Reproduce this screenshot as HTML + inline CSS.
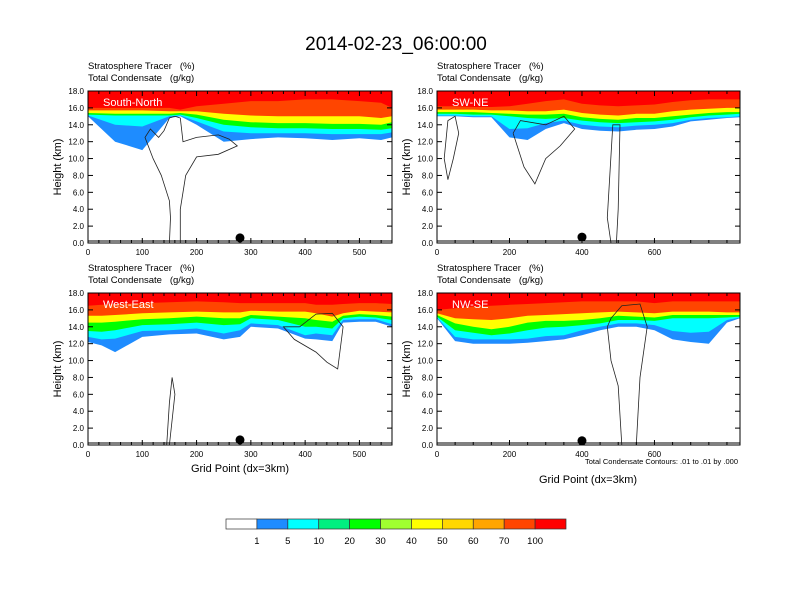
<!DOCTYPE html>
<html><head><meta charset="utf-8"><style>
body{margin:0;background:#fff}
svg{display:block;font-family:"Liberation Sans",sans-serif}
text{white-space:pre}
</style></head><body>
<svg id="chart" width="792" height="612" viewBox="0 0 792 612">
<text x="396" y="50" text-anchor="middle" font-size="19">2014-02-23_06:00:00</text>
</svg>
<script>
// ---- data ----
const levelLabels = ["1","5","10","20","30","40","50","60","70","100"];
const barColors = ["#ffffff","#1e8cff","#00ffff","#00f080","#00ff00","#a0ff30","#ffff00","#ffd700","#ffa500","#ff4500","#ff0000"];
const bandColors = ["#1e8cff","#00ffff","#00ff00","#ffff00","#ff4500","#ff0000"];
const panelNames = ["South-North","SW-NE","West-East","NW-SE"];
const xMaxes = [560,836,560,836];
const xTicks = [[0,100,200,300,400,500],[0,200,400,600],[0,100,200,300,400,500],[0,200,400,600]];
const yTicks = [0,2,4,6,8,10,12,14,16,18];

const snX = [0,50,100,150,170,200,250,300,350,400,450,500,540,560];
const snB1 = [15.0,12.0,11.0,14.8,15.0,14.0,12.0,12.3,12.5,12.4,12.2,12.4,12.2,12.5];
const snB5 = [15.1,14.0,13.8,15.0,15.1,14.4,13.2,13.0,13.0,13.0,12.9,12.9,12.9,13.1];
const snB20 = [15.2,15.1,15.1,15.1,15.2,14.8,14.0,13.7,13.6,13.6,13.5,13.5,13.4,13.6];
const snB50 = [15.4,15.3,15.3,15.3,15.4,15.2,14.6,14.3,14.2,14.2,14.1,14.1,14.0,14.3];
const snB80 = [15.7,15.7,15.7,15.6,15.6,15.6,15.3,15.1,15.0,15.0,15.0,15.0,14.8,15.0];
const snB100 = [16.0,16.0,16.0,16.0,15.8,16.2,16.5,16.8,16.8,17.0,17.0,16.8,16.6,16.0];

const swX = [0,50,100,150,200,250,300,350,400,450,500,550,600,650,700,750,800,836];
const swB1 = [15.0,15.0,14.9,14.9,12.5,12.2,13.5,14.2,13.5,13.3,13.2,13.4,13.5,13.8,14.4,14.6,14.8,14.9];
const swB5 = [15.1,15.1,15.0,15.0,13.5,13.6,14.2,14.5,14.0,13.8,13.7,13.9,14.0,14.2,14.6,14.8,14.9,15.0];
const swB20 = [15.3,15.3,15.2,15.2,15.0,14.8,14.7,14.8,14.5,14.3,14.2,14.3,14.4,14.6,14.9,15.1,15.2,15.3];
const swB50 = [15.5,15.5,15.5,15.4,15.3,15.2,15.2,15.3,14.9,14.7,14.6,14.8,14.8,15.0,15.2,15.4,15.5,15.5];
const swB80 = [15.8,15.8,15.8,15.7,15.7,15.6,15.6,15.8,15.4,15.2,15.1,15.3,15.3,15.6,15.8,15.9,16.0,16.0];
const swB100 = [16.2,16.2,16.1,16.1,16.2,16.5,16.8,17.0,16.5,16.3,16.2,16.3,16.4,16.7,16.9,17.0,17.0,17.0];

const weX = [0,25,50,100,150,200,250,280,300,350,400,420,450,470,500,530,560];
const weB1 = [12.2,11.8,11.0,12.8,13.1,13.2,12.5,12.8,14.0,13.8,12.6,12.5,12.3,14.5,14.6,14.6,14.0];
const weB5 = [12.8,12.5,12.6,13.5,13.6,13.8,13.2,13.6,14.4,14.2,13.0,13.2,13.0,14.8,14.9,14.9,14.3];
const weB20 = [13.5,13.4,13.6,14.2,14.3,14.5,14.2,14.3,15.0,14.8,14.0,14.0,13.8,15.0,15.2,15.1,14.8];
const weB50 = [14.5,14.5,14.6,14.9,15.0,15.2,15.0,15.0,15.4,15.2,15.0,14.8,14.6,15.3,15.5,15.4,15.2];
const weB80 = [15.3,15.3,15.4,15.6,15.7,15.8,15.7,15.7,15.9,15.8,15.8,15.6,15.2,15.6,15.9,15.8,15.7];
const weB100 = [16.5,16.6,16.7,16.8,16.9,17.0,16.9,16.8,16.8,16.8,16.8,16.6,16.6,16.7,16.8,16.8,16.7];

const nwX = [0,50,100,150,200,250,300,350,400,450,500,550,600,650,700,750,800,836];
const nwB1 = [15.0,12.3,12.0,12.0,12.0,12.1,12.3,12.5,13.0,13.6,14.0,14.0,13.6,12.5,12.2,12.0,14.5,15.0];
const nwB5 = [15.1,12.8,12.5,12.5,12.5,12.6,12.9,13.0,13.6,14.0,14.4,14.4,14.2,13.5,13.3,13.4,14.8,15.1];
const nwB20 = [15.2,13.6,13.3,13.0,13.2,13.6,13.9,14.0,14.2,14.4,14.8,14.8,14.7,15.0,15.0,15.0,15.1,15.2];
const nwB50 = [15.4,14.4,14.0,13.7,14.0,14.5,14.7,14.7,14.8,15.0,15.3,15.2,15.1,15.4,15.4,15.4,15.4,15.4];
const nwB80 = [15.6,15.0,14.9,14.8,15.0,15.3,15.4,15.5,15.6,15.7,15.8,15.7,15.6,15.8,15.8,15.8,15.7,15.7];
const nwB100 = [16.0,16.2,16.4,16.5,16.6,16.7,16.8,16.9,17.0,17.0,17.0,17.0,16.8,17.0,17.0,17.0,17.0,17.0];

const snCloudX = [150,152,150,135,120,105,115,130,140,150,160,170,175,200,240,260,275,240,200,180,170,170];
const snCloudY = [0,3,5,8,10,12.5,13.5,12.5,13.3,14.8,15,14.8,12,12.5,12.8,12.3,11.5,10.5,10.2,8,4,0];
const swCloudX = [210,230,300,350,380,340,300,270,240,210];
const swCloudY = [13,14.5,14,15,13.5,11.5,10,7,9,13];
const swLeftX = [30,20,30,50,60,45,30];
const swLeftY = [7.5,10,14.5,15,13,10,7.5];
const swRightX = [480,470,485,505,500,495];
const swRightY = [0,3,14,14,4,0];
const weCloudX = [390,420,450,470,460,440,420,380,360,390];
const weCloudY = [14,15.5,15.6,14,9,9.8,11,12.5,14,14];
const weSpikeX = [145,150,155,160,150,145];
const weSpikeY = [0,5,8,6,0,0];
const nwCloudX = [470,480,510,560,580,560,550,510,500,480,470];
const nwCloudY = [14,15,16.5,16.7,14,8,0,0,7,10,14];
const dotX = [280,400,280,400];
const dotY = [0.6,0.7,0.6,0.5];

// ---- drawing ----
const NS="http://www.w3.org/2000/svg";
const svg=document.getElementById('chart');
function mk(tag,attrs,parent){const e=document.createElementNS(NS,tag);for(const k in attrs)e.setAttribute(k,attrs[k]);(parent||svg).appendChild(e);return e;}
const panels=[
 {x0:88,x1:392,y0:91,y1:243,xs:snX,b:[snB1,snB5,snB20,snB50,snB80,snB100],cl:[[snCloudX,snCloudY]]},
 {x0:437,x1:740,y0:91,y1:243,xs:swX,b:[swB1,swB5,swB20,swB50,swB80,swB100],cl:[[swCloudX,swCloudY],[swLeftX,swLeftY],[swRightX,swRightY]]},
 {x0:88,x1:392,y0:293,y1:445,xs:weX,b:[weB1,weB5,weB20,weB50,weB80,weB100],cl:[[weCloudX,weCloudY],[weSpikeX,weSpikeY]]},
 {x0:437,x1:740,y0:293,y1:445,xs:nwX,b:[nwB1,nwB5,nwB20,nwB50,nwB80,nwB100],cl:[[nwCloudX,nwCloudY]]}
];
panels.forEach((p,i)=>{
 const g=mk('g',{});
 
 
 const sx=v=>p.x0+(p.x1-p.x0)*v/xMaxes[i];
 const sy=v=>p.y1-(p.y1-p.y0)*v/18;
 const cid='clip'+i;
 const cp=mk('clipPath',{id:cid},g);mk('rect',{x:p.x0,y:p.y0,width:p.x1-p.x0,height:p.y1-p.y0},cp);
 const plot=mk('g',{'clip-path':'url(#'+cid+')'},g);
 p.b.forEach((arr,k)=>{
  let d='M'+sx(p.xs[0])+','+sy(18.5);
  p.xs.forEach((x,j)=>{d+=' L'+sx(x).toFixed(1)+','+sy(arr[j]).toFixed(1);});
  d+=' L'+sx(p.xs[p.xs.length-1])+','+sy(18.5)+' Z';
  const band=mk('path',{d:d,fill:bandColors[k]},plot);
  
  
 });
 p.cl.forEach(([cx,cy],k)=>{
  const pts=cx.map((x,j)=>sx(x).toFixed(1)+','+sy(cy[j]).toFixed(1)).join(' ');
  const c=mk('polyline',{points:pts,fill:'none',stroke:'#222','stroke-width':0.8},plot);
  
  
 });
 const dot=mk('circle',{cx:sx(dotX[i]),cy:sy(dotY[i]),r:4.5,fill:'#000'},plot);
 
 
 const lab=mk('text',{x:p.x0+15,y:p.y0+15,'font-size':11,fill:'#fff'},g);lab.textContent=panelNames[i];
 
 
 mk('rect',{x:p.x0,y:p.y0,width:p.x1-p.x0,height:p.y1-p.y0,fill:'none',stroke:'#000','stroke-width':1},g);
 mk('line',{x1:p.x0,x2:p.x1,y1:p.y1-2,y2:p.y1-2,stroke:'#000','stroke-width':1},g);
 yTicks.forEach(v=>{
  const y=sy(v);
  mk('line',{x1:p.x0,x2:p.x0+5,y1:y,y2:y,stroke:'#000'},g);
  mk('line',{x1:p.x1,x2:p.x1-5,y1:y,y2:y,stroke:'#000'},g);
  const t=mk('text',{x:p.x0-4,y:y+3,'font-size':8,'text-anchor':'end'},g);t.textContent=v.toFixed(1);
  
  
 });
 const step=i%2?50:20;
 for(let v=0;v<=xMaxes[i];v+=step){const x=sx(v);const major=xTicks[i].includes(v);
  mk('line',{x1:x,x2:x,y1:p.y1,y2:p.y1-(major?5:3),stroke:'#000'},g);
  mk('line',{x1:x,x2:x,y1:p.y0,y2:p.y0+(major?5:3),stroke:'#000'},g);}
 xTicks[i].forEach(v=>{const t=mk('text',{x:sx(v),y:p.y1+12,'font-size':8,'text-anchor':'middle'},g);t.textContent=v;
  
  });
 const t1=mk('text',{x:p.x0,y:p.y0-22,'font-size':9.5},g);t1.textContent='Stratosphere Tracer   (%)';
 
 
 const t2=mk('text',{x:p.x0,y:p.y0-10,'font-size':9.5},g);t2.textContent='Total Condensate   (g/kg)';
 
 
 const yl=mk('text',{x:0,y:0,'font-size':11,'text-anchor':'middle',transform:'translate('+(p.x0-27)+','+((p.y0+p.y1)/2)+') rotate(-90)'},g);yl.textContent='Height (km)';
 
 
});
const xa1=mk('text',{x:240,y:472,'font-size':11,'text-anchor':'middle'});xa1.textContent='Grid Point (dx=3km)';


const xa2=mk('text',{x:588,y:483,'font-size':11,'text-anchor':'middle'});xa2.textContent='Grid Point (dx=3km)';


const info=mk('text',{x:738,y:464,'font-size':7.5,'text-anchor':'end'});info.textContent='Total Condensate Contours: .01 to .01 by .000';


// colorbar
const cbW=340/barColors.length;
barColors.forEach((c,k)=>{const r=mk('rect',{x:226+k*cbW,y:519,width:cbW,height:10,fill:c,stroke:'#333','stroke-width':0.7});
 
 });
levelLabels.forEach((l,k)=>{const t=mk('text',{x:226+(k+1)*cbW,y:544,'font-size':9.5,'text-anchor':'middle'});t.textContent=l;
 
 });
</script>
</body></html>
